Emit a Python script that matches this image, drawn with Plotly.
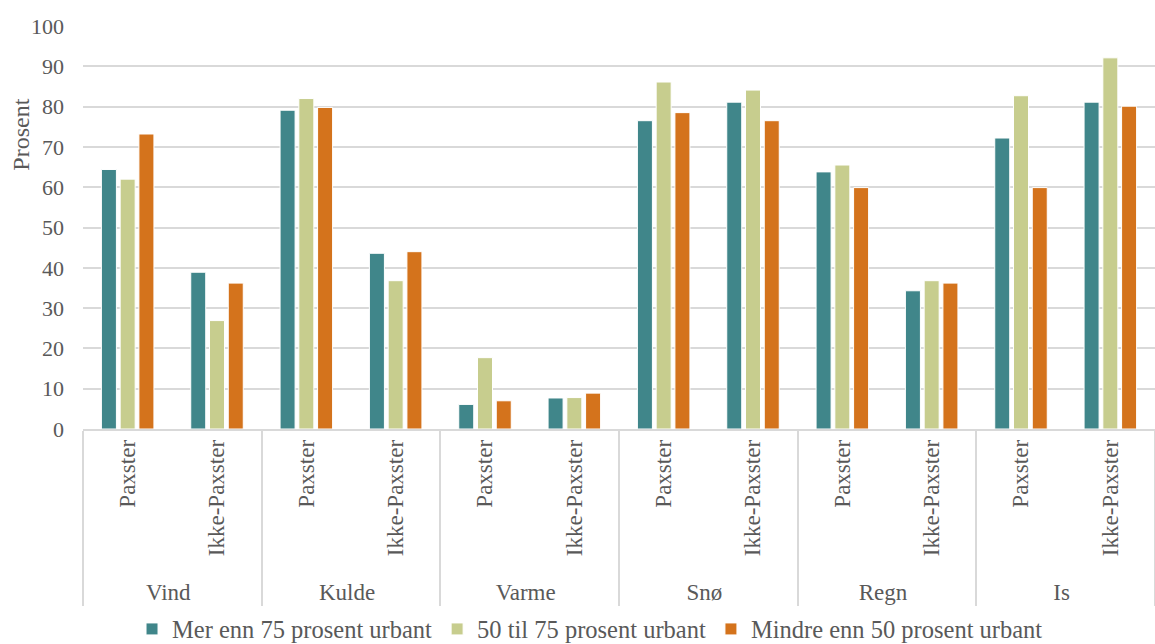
import plotly.graph_objects as go

categories = ["Vind", "Vind", "Kulde", "Kulde", "Varme", "Varme",
              "Snø", "Snø", "Regn", "Regn", "Is", "Is"]
subcategories = ["Paxster", "Ikke-Paxster"] * 6

series_names = ["Mer enn 75 prosent urbant", "50 til 75 prosent urbant", "Mindre enn 50 prosent urbant"]
mer_enn_75 = [64.4, 38.9, 79.1, 43.6, 6.1, 7.7, 76.5, 81.1, 63.8, 34.3, 72.2, 81.1]
til_50_75 = [62.0, 26.9, 82.0, 36.8, 17.7, 7.8, 86.1, 84.1, 65.5, 36.8, 82.7, 92.1]
mindre_50 = [73.2, 36.2, 79.8, 44.0, 7.0, 8.9, 78.5, 76.5, 59.9, 36.2, 59.9, 80.1]

y_ticks = [0, 10, 20, 30, 40, 50, 60, 70, 80, 90, 100]
y_title = "Prosent"
colors = ["#40868A", "#C7CD8E", "#D4731C"]

font_family = "Liberation Serif, Times New Roman, serif"
text_color = "#595959"

fig = go.Figure()
for name, vals, col in zip(series_names, [mer_enn_75, til_50_75, mindre_50], colors):
    fig.add_trace(go.Bar(
        x=[categories, subcategories], y=vals, name=name,
        marker=dict(color=col, line=dict(color="white", width=1)),
    ))

fig.update_layout(
    width=1155, height=644,
    margin=dict(l=83, r=0, t=26, b=215, autoexpand=False),
    paper_bgcolor="white", plot_bgcolor="white",
    barmode="group", bargap=0.37, bargroupgap=0.2,
    font=dict(family=font_family, size=22, color=text_color),
    legend=dict(orientation="h", x=0.1143, xanchor="left", xref="container",
                y=-0.4963, yanchor="middle", yref="paper",
                bgcolor="rgba(0,0,0,0)",
                font=dict(family=font_family, size=24.5, color=text_color),
                traceorder="normal"),
    showlegend=True,
    annotations=[dict(
        text=y_title, textangle=-90, xref="paper", yref="paper",
        x=-0.058, y=0.73, xanchor="center", yanchor="middle", showarrow=False,
        font=dict(family=font_family, size=24, color=text_color),
    )],
)
fig.update_yaxes(
    range=[0, 100], tickvals=y_ticks, showgrid=True, gridcolor="#D9D9D9", gridwidth=1.5,
    zeroline=False, showline=False, ticklabelstandoff=18, automargin=False,
    tickfont=dict(family=font_family, size=22, color=text_color),
)
fig.update_xaxes(
    type="multicategory", showline=True, linecolor="#D9D9D9", linewidth=1.5,
    tickangle=-90, showdividers=True, dividercolor="#D9D9D9", dividerwidth=1.5,
    tickfont=dict(family=font_family, size=23, color=text_color), ticks="", automargin=False,
)

fig.write_html("out.html")
